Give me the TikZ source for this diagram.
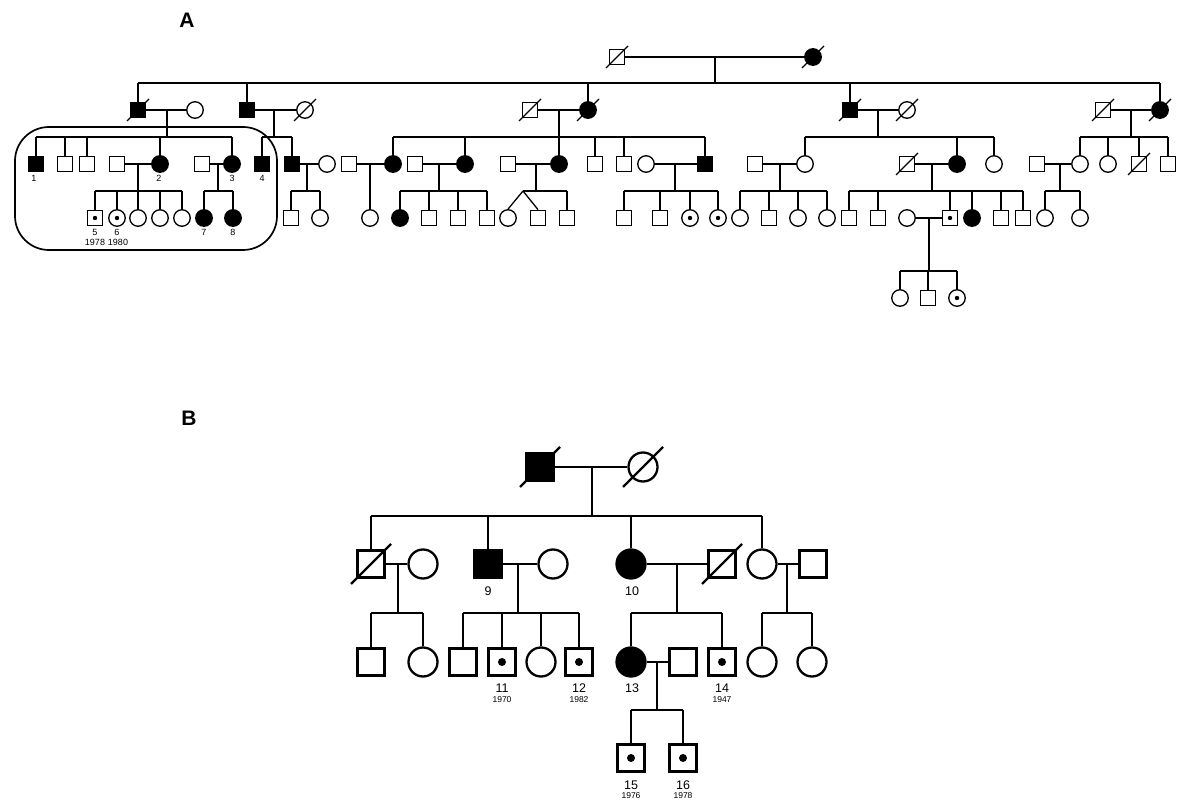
\documentclass[tikz,border=0pt]{standalone}
\usepackage{fontspec}
\setmainfont{Liberation Sans}
\usetikzlibrary{calc}
\begin{document}
\begin{tikzpicture}[x=1pt,y=-1pt,
  lA/.style={line width=1.3pt},
  lB/.style={line width=2.3pt},
  sA/.style={draw, line width=1.3pt, rectangle, minimum size=15.5pt, inner sep=0pt},
  cA/.style={draw, line width=1.3pt, circle, minimum size=16.5pt, inner sep=0pt},
  sB/.style={draw, line width=2.3pt, rectangle, minimum size=27pt, inner sep=0pt},
  cB/.style={draw, line width=2.3pt, circle, minimum size=29pt, inner sep=0pt},
  aff/.style={fill=black},
  carA/.style={path picture={\fill[black] (path picture bounding box.center) circle[radius=2.2pt];}},
  carB/.style={path picture={\fill[black] (path picture bounding box.center) circle[radius=4pt];}},
  numA/.style={inner sep=0pt, font=\fontsize{9}{9}\selectfont},
  numB/.style={inner sep=0pt, font=\fontsize{12.5}{12.5}\selectfont},
  yrB/.style={inner sep=0pt, font=\fontsize{8.5}{9}\selectfont},
  ttl/.style={inner sep=0pt, font=\bfseries\fontsize{21}{21}\selectfont}]
\useasboundingbox (0,0) rectangle (1178,802);

\node[ttl] (tA) at (187,20) {A};
\node[ttl] (tB) at (189,418) {B};

% ================= A =================
% Gen I
\node[sA] (g1m) at (617,57) {};
\node[cA,aff] (g1f) at (813,57) {};
% Gen II
\node[sA,aff] (f1m) at (138,110) {};
\node[cA] (f1f) at (195,110) {};
\node[sA,aff] (f2m) at (247,110) {};
\node[cA] (f2f) at (305,110) {};
\node[sA] (f3m) at (530,110) {};
\node[cA,aff] (f3f) at (588,110) {};
\node[sA,aff] (f4m) at (850,110) {};
\node[cA] (f4f) at (907,110) {};
\node[sA] (f5m) at (1103,110) {};
\node[cA,aff] (f5f) at (1160,110) {};
% Gen III
\node[sA,aff] (a1) at (36,164) {};
\node[sA] (a2) at (65,164) {};
\node[sA] (a3) at (87,164) {};
\node[sA] (a4s) at (117,164) {};
\node[cA,aff] (a5) at (160,164) {};
\node[sA] (a6s) at (202,164) {};
\node[cA,aff] (a7) at (232,164) {};
\node[sA,aff] (a8) at (262,164) {};
\node[sA,aff] (a9) at (292,164) {};
\node[cA] (a9s) at (327,164) {};
\node[sA] (b1s) at (349,164) {};
\node[cA,aff] (b1) at (393,164) {};
\node[sA] (b2s) at (415,164) {};
\node[cA,aff] (b2) at (465,164) {};
\node[sA] (b3s) at (508,164) {};
\node[cA,aff] (b3) at (559,164) {};
\node[sA] (b4) at (595,164) {};
\node[sA] (b5) at (624,164) {};
\node[cA] (b6s) at (646,164) {};
\node[sA,aff] (b6) at (705,164) {};
\node[sA] (c1s) at (755,164) {};
\node[cA] (c1) at (805,164) {};
\node[sA] (c2s) at (907,164) {};
\node[cA,aff] (c2) at (957,164) {};
\node[cA] (c3) at (994,164) {};
\node[sA] (d1s) at (1037,164) {};
\node[cA] (d1) at (1080,164) {};
\node[cA] (d2) at (1108,164) {};
\node[sA] (d3) at (1139,164) {};
\node[sA] (d4) at (1168,164) {};
% Gen IV
\node[sA,carA] (e1) at (95,218) {};
\node[cA,carA] (e2) at (117,218) {};
\node[cA] (e3) at (138,218) {};
\node[cA] (e4) at (160,218) {};
\node[cA] (e5) at (182,218) {};
\node[cA,aff] (e6) at (204,218) {};
\node[cA,aff] (e7) at (233,218) {};
\node[sA] (e8) at (291,218) {};
\node[cA] (e9) at (320,218) {};
\node[cA] (e10) at (370,218) {};
\node[cA,aff] (e11) at (400,218) {};
\node[sA] (e12) at (429,218) {};
\node[sA] (e13) at (458,218) {};
\node[sA] (e14) at (487,218) {};
\node[cA] (e15) at (508,218) {};
\node[sA] (e16) at (538,218) {};
\node[sA] (e17) at (567,218) {};
\node[sA] (e18) at (624,218) {};
\node[sA] (e19) at (660,218) {};
\node[cA,carA] (e20) at (690,218) {};
\node[cA,carA] (e21) at (718,218) {};
\node[cA] (e22) at (740,218) {};
\node[sA] (e23) at (769,218) {};
\node[cA] (e24) at (798,218) {};
\node[cA] (e25) at (827,218) {};
\node[sA] (e26) at (849,218) {};
\node[sA] (e27) at (878,218) {};
\node[cA] (e28s) at (907,218) {};
\node[sA,carA] (e28) at (950,218) {};
\node[cA,aff] (e29) at (972,218) {};
\node[sA] (e30) at (1001,218) {};
\node[sA] (e31) at (1023,218) {};
\node[cA] (e32) at (1045,218) {};
\node[cA] (e33) at (1080,218) {};
% Gen V
\node[cA] (v1) at (900,298) {};
\node[sA] (v2) at (928,298) {};
\node[cA,carA] (v3) at (957,298) {};

% labels A
\node[numA] (l1) at (34,178) {1};
\node[numA] (l2) at (159,178) {2};
\node[numA] (l3) at (232,178) {3};
\node[numA] (l4) at (262,178) {4};
\node[numA] (l5) at (95,232) {5};
\node[numA] (y5) at (95,242) {1978};
\node[numA] (l6) at (117,232) {6};
\node[numA] (y6) at (118,242) {1980};
\node[numA] (l7) at (204,232) {7};
\node[numA] (l8) at (233,232) {8};

% box
\draw[line width=1.7pt, rounded corners=34pt] (15,127) rectangle (277,250);

% deceased slashes A
\foreach \n in {g1m,g1f,f1m,f2f,f3m,f3f,f4m,f4f,f5m,f5f,c2s,d3}
  \draw[lA] ($(\n.center)+(-11,11)$) -- ($(\n.center)+(11,-11)$);

% couple lines A
\foreach \p/\q in {g1m/g1f,f1m/f1f,f2m/f2f,f3m/f3f,f4m/f4f,f5m/f5f,
  a4s/a5,a6s/a7,a9/a9s,b1s/b1,b2s/b2,b3s/b3,b6s/b6,c1s/c1,c2s/c2,d1s/d1,e28s/e28}
  \draw[lA] (\p) -- (\q);

% descents A (junction on couple line -> sibship level)
\coordinate (j0) at (715,57);   \coordinate (s0) at (715,83);
\coordinate (j1) at (167,110);  \coordinate (s1) at (167,137);
\coordinate (j2) at (274,110);  \coordinate (s2) at (274,137);
\coordinate (j3) at (559,110);  \coordinate (s3) at (559,137);
\coordinate (j4) at (878,110);  \coordinate (s4) at (878,137);
\coordinate (j5) at (1131,110); \coordinate (s5) at (1131,137);
\coordinate (j6) at (138,164);  \coordinate (s6) at (138,191);
\coordinate (j7) at (218,164);  \coordinate (s7) at (218,191);
\coordinate (j8) at (307,164);  \coordinate (s8) at (307,191);
\coordinate (j9) at (370,164);
\coordinate (j10) at (439,164); \coordinate (s10) at (439,191);
\coordinate (j11) at (536,164); \coordinate (s11) at (536,191);
\coordinate (j12) at (675,164); \coordinate (s12) at (675,191);
\coordinate (j13) at (780,164); \coordinate (s13) at (780,191);
\coordinate (j14) at (932,164); \coordinate (s14) at (932,191);
\coordinate (j15) at (1060,164); \coordinate (s15) at (1060,191);
\coordinate (j16) at (929,218); \coordinate (s16) at (929,271);
\foreach \k in {0,1,2,3,4,5,6,7,8,10,11,12,13,14,15,16}
  \draw[lA] (j\k) -- (s\k);
\draw[lA] (j9) -- (e10.north);

% sibship lines A
\foreach \f/\l/\s in {f1m/f5f/s0, a1/a7/s1, a8/a9/s2, b1/b6/s3, c1/c3/s4, d1/d4/s5,
  e1/e5/s6, e6/e7/s7, e8/e9/s8, e11/e14/s10, e18/e21/s12, e22/e25/s13,
  e26/e31/s14, e32/e33/s15, v1/v3/s16}
  \draw[lA] (\f.north |- \s) -- (\l.north |- \s);
\coordinate (tw) at (523,191);
\draw[lA] (tw) -- (e17.north |- s11);
% drops A
\foreach \c/\s in {f1m/s0,f2m/s0,f3f/s0,f4m/s0,f5f/s0,
  a1/s1,a2/s1,a3/s1,a5/s1,a7/s1, a8/s2,a9/s2,
  b1/s3,b2/s3,b3/s3,b4/s3,b5/s3,b6/s3, c1/s4,c2/s4,c3/s4, d1/s5,d2/s5,d3/s5,d4/s5,
  e1/s6,e2/s6,e3/s6,e4/s6,e5/s6, e6/s7,e7/s7, e8/s8,e9/s8,
  e11/s10,e12/s10,e13/s10,e14/s10, e17/s11,
  e18/s12,e19/s12,e20/s12,e21/s12, e22/s13,e23/s13,e24/s13,e25/s13,
  e26/s14,e27/s14,e28/s14,e29/s14,e30/s14,e31/s14, e32/s15,e33/s15,
  v1/s16,v2/s16,v3/s16}
  \draw[lA] (\c.north) -- (\c.north |- \s);
% twins
\draw[lA] (tw) -- (e15.north);
\draw[lA] (tw) -- (e16.north);

% ================= B =================
\node[sB,aff] (B1) at (540,467) {};
\node[cB] (B2) at (643,467) {};
\node[sB] (B3) at (371,564) {};
\node[cB] (B4) at (423,564) {};
\node[sB,aff] (B5) at (488,564) {};
\node[cB] (B6) at (553,564) {};
\node[cB,aff] (B7) at (631,564) {};
\node[sB] (B8) at (722,564) {};
\node[cB] (B9) at (762,564) {};
\node[sB] (B10) at (813,564) {};
\node[sB] (C1) at (371,662) {};
\node[cB] (C2) at (423,662) {};
\node[sB] (C3) at (463,662) {};
\node[sB,carB] (C4) at (502,662) {};
\node[cB] (C5) at (541,662) {};
\node[sB,carB] (C6) at (579,662) {};
\node[cB,aff] (C7) at (631,662) {};
\node[sB] (C8s) at (683,662) {};
\node[sB,carB] (C9) at (722,662) {};
\node[cB] (C10) at (762,662) {};
\node[cB] (C11) at (812,662) {};
\node[sB,carB] (D1) at (631,758) {};
\node[sB,carB] (D2) at (683,758) {};

\node[numB] (n9) at (488,591) {9};
\node[numB] (n10) at (632,591) {10};
\node[numB] (n11) at (502,688) {11};
\node[yrB] (y11) at (502,700) {1970};
\node[numB] (n12) at (579,688) {12};
\node[yrB] (y12) at (579,700) {1982};
\node[numB] (n13) at (632,688) {13};
\node[numB] (n14) at (722,688) {14};
\node[yrB] (y14) at (722,700) {1947};
\node[numB] (n15) at (631,785) {15};
\node[yrB] (y15) at (631,796) {1976};
\node[numB] (n16) at (683,785) {16};
\node[yrB] (y16) at (683,796) {1978};

\foreach \n in {B1,B2,B3,B8}
  \draw[lB] ($(\n.center)+(-20,20)$) -- ($(\n.center)+(20,-20)$);

\foreach \p/\q in {B1/B2,B3/B4,B5/B6,B7/B8,B9/B10,C7/C8s}
  \draw[lB] (\p) -- (\q);

\coordinate (J0) at (592,467); \coordinate (S0) at (592,516);
\coordinate (J1) at (398,564); \coordinate (S1) at (398,613);
\coordinate (J2) at (518,564); \coordinate (S2) at (518,613);
\coordinate (J3) at (677,564); \coordinate (S3) at (677,613);
\coordinate (J4) at (787,564); \coordinate (S4) at (787,613);
\coordinate (J5) at (657,662); \coordinate (S5) at (657,710);
\foreach \k in {0,...,5} \draw[lB] (J\k) -- (S\k);

\foreach \f/\l/\s in {B3/B9/S0, C1/C2/S1, C3/C6/S2, C7/C9/S3, C10/C11/S4, D1/D2/S5}
  \draw[lB] (\f.north |- \s) -- (\l.north |- \s);
\foreach \c/\s in {B3/S0,B5/S0,B7/S0,B9/S0, C1/S1,C2/S1, C3/S2,C4/S2,C5/S2,C6/S2,
  C7/S3,C9/S3, C10/S4,C11/S4, D1/S5,D2/S5}
  \draw[lB] (\c.north) -- (\c.north |- \s);
\end{tikzpicture}
\end{document}
